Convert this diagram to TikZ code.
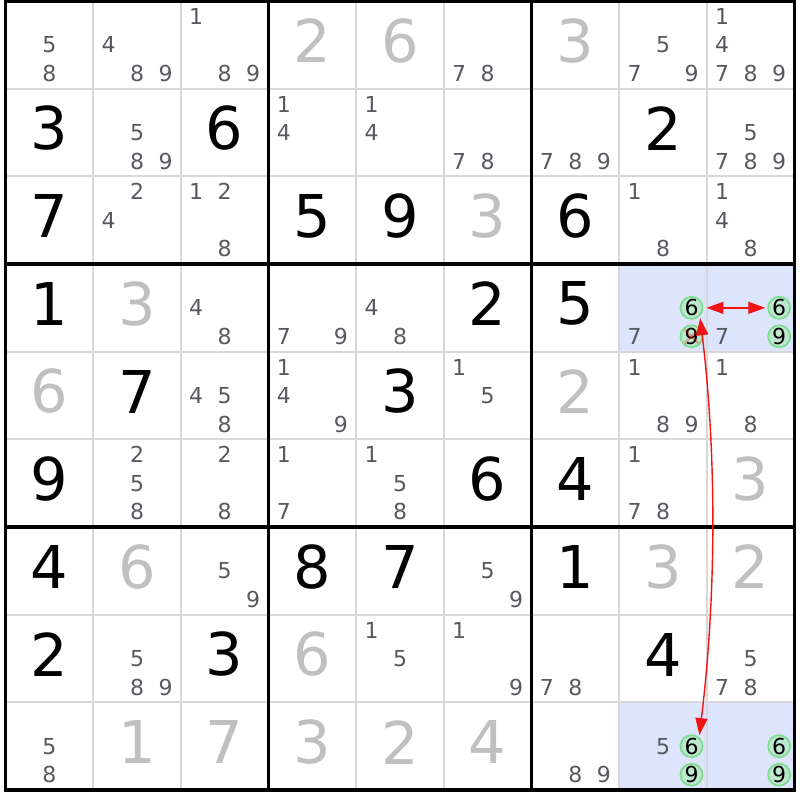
\documentclass[tikz,border=0pt]{standalone}
\usepackage{fontspec}
\setmainfont{DejaVu Sans}
\usetikzlibrary{arrows.meta}
\definecolor{candc}{RGB}{88,88,96}
\definecolor{givenc}{RGB}{192,192,192}
\definecolor{hlc}{RGB}{220,229,251}
\definecolor{thinc}{RGB}{216,216,216}
\definecolor{ringc}{RGB}{128,220,145}
\definecolor{ringf}{RGB}{188,232,205}
\definecolor{arrc}{RGB}{240,20,20}
\newcommand\CX[1]{5.5+87.667*(#1-0.5)}
\newcommand\CY[1]{1+87.667*(#1-0.5)}
\newcommand\bigd[4]{\node[bigdig,text=#4] (d#1#2) at ({\CX{#2}},{\CY{#1}-4}) {#3};}
\newcommand\candone[3]{%
  \pgfmathtruncatemacro\kr{int((#3-1)/3)}%
  \pgfmathtruncatemacro\kc{mod(#3-1,3)}%
  \node[canddig] (c#1#2-#3) at ({\CX{#2}+28.5*(\kc-1)},{\CY{#1}+28.5*(\kr-1)}) {#3};}
\newcommand\cands[3]{\foreach \dd in {#3} {\candone{#1}{#2}{\dd}}}
\newcommand\ringc[3]{%
  \pgfmathtruncatemacro\kr{int((#3-1)/3)}%
  \pgfmathtruncatemacro\kc{mod(#3-1,3)}%
  \node[candring] (c#1#2-#3) at ({\CX{#2}+28.5*(\kc-1)},{\CY{#1}+28.5*(\kr-1)}) {#3};}
\newcommand\hl[2]{\fill[hlc] ({5.5+87.667*(#2-1)},{1+87.667*(#1-1)}) rectangle ({5.5+87.667*#2},{1+87.667*#1});}
\begin{document}
\begin{tikzpicture}[x=1pt,y=-1pt,
  bigdig/.style={inner sep=0pt,anchor=center,font=\fontsize{59}{60}\selectfont},
  canddig/.style={inner sep=0pt,anchor=center,text=candc,font=\fontsize{22}{22}\selectfont},
  candring/.style={circle,inner sep=0pt,minimum size=22pt,draw=ringc,line width=1.8pt,fill=ringf,text=black,font=\fontsize{22}{22}\selectfont},
  thinline/.style={draw=thinc,line width=2pt},
  thickline/.style={draw=black,line width=3.5pt},
  arr/.style={draw=arrc,line width=1.4pt,{Triangle[length=17pt,width=12pt]}-{Triangle[length=17pt,width=12pt]}},
  xmark/.style={draw=red,opacity=0.3,line width=2.2pt}]
\useasboundingbox (0,0) rectangle (800,800);
\fill[white] (0,0) rectangle (800,800);
% highlighted cells
\hl{4}{8}\hl{4}{9}\hl{9}{8}\hl{9}{9}
% grid
\foreach \i in {1,2,4,5,7,8} {
  \draw[thinline] ({5.5+87.667*\i},1) -- ({5.5+87.667*\i},790);
  \draw[thinline] (5.5,{1+87.667*\i}) -- (794.5,{1+87.667*\i});
}
\foreach \i in {0,3,6,9} {
  \draw[thickline] ({5.5+87.667*\i},-0.75) -- ({5.5+87.667*\i},791.75);
  \draw[thickline] (3.75,{1+87.667*\i}) -- (796.25,{1+87.667*\i});
}
% given (gray) digits
\bigd{1}{4}{2}{givenc}\bigd{1}{5}{6}{givenc}\bigd{1}{7}{3}{givenc}
\bigd{3}{6}{3}{givenc}\bigd{4}{2}{3}{givenc}\bigd{5}{1}{6}{givenc}
\bigd{5}{7}{2}{givenc}\bigd{6}{9}{3}{givenc}\bigd{7}{2}{6}{givenc}
\bigd{7}{8}{3}{givenc}\bigd{7}{9}{2}{givenc}\bigd{8}{4}{6}{givenc}
\bigd{9}{2}{1}{givenc}\bigd{9}{3}{7}{givenc}\bigd{9}{4}{3}{givenc}
\bigd{9}{5}{2}{givenc}\bigd{9}{6}{4}{givenc}
% solved (black) digits
\bigd{2}{1}{3}{black}\bigd{2}{3}{6}{black}\bigd{2}{8}{2}{black}
\bigd{3}{1}{7}{black}\bigd{3}{4}{5}{black}\bigd{3}{5}{9}{black}\bigd{3}{7}{6}{black}
\bigd{4}{1}{1}{black}\bigd{4}{6}{2}{black}\bigd{4}{7}{5}{black}
\bigd{5}{2}{7}{black}\bigd{5}{5}{3}{black}
\bigd{6}{1}{9}{black}\bigd{6}{6}{6}{black}\bigd{6}{7}{4}{black}
\bigd{7}{1}{4}{black}\bigd{7}{4}{8}{black}\bigd{7}{5}{7}{black}\bigd{7}{7}{1}{black}
\bigd{8}{1}{2}{black}\bigd{8}{3}{3}{black}\bigd{8}{8}{4}{black}
% candidates
\cands{1}{1}{5,8}\cands{1}{2}{4,8,9}\cands{1}{3}{1,8,9}\cands{1}{6}{7,8}
\cands{1}{8}{5,7,9}\cands{1}{9}{1,4,7,8,9}
\cands{2}{2}{5,8,9}\cands{2}{4}{1,4}\cands{2}{5}{1,4}\cands{2}{6}{7,8}
\cands{2}{7}{7,8,9}\cands{2}{9}{5,7,8,9}
\cands{3}{2}{2,4}\cands{3}{3}{1,2,8}\cands{3}{8}{1,8}\cands{3}{9}{1,4,8}
\cands{4}{3}{4,8}\cands{4}{4}{7,9}\cands{4}{5}{4,8}\cands{4}{8}{7}\cands{4}{9}{7}
\cands{5}{3}{4,5,8}\cands{5}{4}{1,4,9}\cands{5}{6}{1,5}\cands{5}{8}{1,8,9}\cands{5}{9}{1,8}
\cands{6}{2}{2,5,8}\cands{6}{3}{2,8}\cands{6}{4}{1,7}\cands{6}{5}{1,5,8}\cands{6}{8}{1,7,8}
\cands{7}{3}{5,9}\cands{7}{6}{5,9}
\cands{8}{2}{5,8,9}\cands{8}{5}{1,5}\cands{8}{6}{1,9}\cands{8}{7}{7,8}\cands{8}{9}{5,7,8}
\cands{9}{1}{5,8}\cands{9}{7}{8,9}\cands{9}{8}{5}
% circled candidates
\ringc{4}{8}{6}\ringc{4}{8}{9}\ringc{4}{9}{6}\ringc{4}{9}{9}
\ringc{9}{8}{6}\ringc{9}{8}{9}\ringc{9}{9}{6}\ringc{9}{9}{9}
% elimination mark
\draw[xmark] ([shift={(-7,-7)}]c48-9.center) -- ([shift={(7,7)}]c48-9.center);
\draw[xmark] ([shift={(-7,7)}]c48-9.center) -- ([shift={(7,-7)}]c48-9.center);
% links
\draw[arr,shorten <=3pt,shorten >=2pt] (c48-6) -- (c49-6);
\draw[arr,shorten <=2pt,shorten >=2pt] (c98-6.50) .. controls +(17,-140) and +(17,140) .. (c48-6.-45);
\end{tikzpicture}
\end{document}
